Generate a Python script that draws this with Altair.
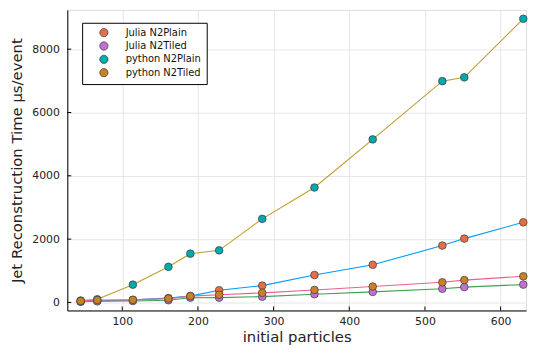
import altair as alt
import pandas as pd

particles = [45, 67, 114, 161, 190, 228, 285, 354, 431, 523, 552, 630]
julia_plain = [30, 50, 80, 135, 200, 385, 530, 866, 1189, 1795, 2016, 2530]
julia_tiled = [20, 35, 45, 70, 150, 151, 182, 260, 333, 433, 484, 563]
python_plain = [60, 100, 560, 1125, 1540, 1645, 2640, 3630, 5150, 6990, 7110, 8960]
python_tiled = [45, 75, 80, 121, 200, 242, 302, 393, 502, 635, 705, 826]

series_names = ["Julia N2Plain", "Julia N2Tiled", "python N2Plain", "python N2Tiled"]
series_values = [julia_plain, julia_tiled, python_plain, python_tiled]
marker_colors = ["#E36F47", "#C271D2", "#00A9AD", "#C68225"]
line_colors = ["#009AFA", "#3EA44E", "#BE9E2C", "#ED5E93"]

x_ticks = [100, 200, 300, 400, 500, 600]
y_ticks = [0, 2000, 4000, 6000, 8000]

rows = []
for name, vals in zip(series_names, series_values):
    for p, v in zip(particles, vals):
        rows.append({"particles": p, "time": v, "series": name})
df = pd.DataFrame(rows)

W, H = 464, 304
xscale = alt.Scale(domain=[27.4, 633.6], nice=False, zero=False)
yscale = alt.Scale(domain=[-254, 9240], nice=False, zero=False)

xaxis = alt.Axis(title="initial particles", values=x_ticks, ticks=False, grid=True,
                 labelPadding=5, titlePadding=3, format="d")
yaxis = alt.Axis(title="Jet Reconstruction Time μs/event", values=y_ticks, ticks=False,
                 grid=True, labelPadding=8, titlePadding=7, format="d")

X = alt.X("particles:Q", scale=xscale, axis=xaxis)
Y = alt.Y("time:Q", scale=yscale, axis=yaxis)

legend = alt.Legend(title=None, orient="none", legendX=15, legendY=13,
                    fillColor="white", strokeColor="black", padding=5,
                    symbolType="circle", symbolSize=70, symbolOffset=12,
                    symbolStrokeColor="#3a3a3a", symbolStrokeWidth=0.7,
                    symbolOpacity=1, labelOffset=17, labelFontSize=10,
                    rowPadding=1.5, labelColor="#111")

color = alt.Color("series:N", scale=alt.Scale(domain=series_names, range=marker_colors),
                  legend=legend)

base = alt.Chart(df)
layers = []
for i, name in enumerate(series_names):
    sub = base.transform_filter(alt.datum.series == name)
    layers.append(sub.mark_line(color=line_colors[i], strokeWidth=1.1).encode(x=X, y=Y))
    layers.append(sub.mark_circle(size=60, stroke="#3a3a3a", strokeWidth=0.7, opacity=1)
                  .encode(x=X, y=Y, color=color))

xt = alt.Chart(pd.DataFrame({"particles": x_ticks})).mark_rule(color="black", strokeWidth=1).encode(
    x=X, y=alt.value(H), y2=alt.value(H - 4))
yt = alt.Chart(pd.DataFrame({"time": y_ticks})).mark_rule(color="black", strokeWidth=1).encode(
    y=Y, x=alt.value(0), x2=alt.value(4))

chart = alt.layer(xt, yt, *layers).properties(
    width=W, height=H, padding={"left": 2, "top": 0, "right": 0, "bottom": 0}
).configure_view(stroke=None).configure(
    font="DejaVu Sans"
).configure_axis(
    labelFontSize=11, labelColor="#222", titleFontSize=15, titleFontWeight="normal",
    titleColor="#222", domainColor="black", domainWidth=1, gridColor="#e6e6e6", gridWidth=1
)

chart.save("out.html", embed_options={"renderer": "svg", "actions": False})
